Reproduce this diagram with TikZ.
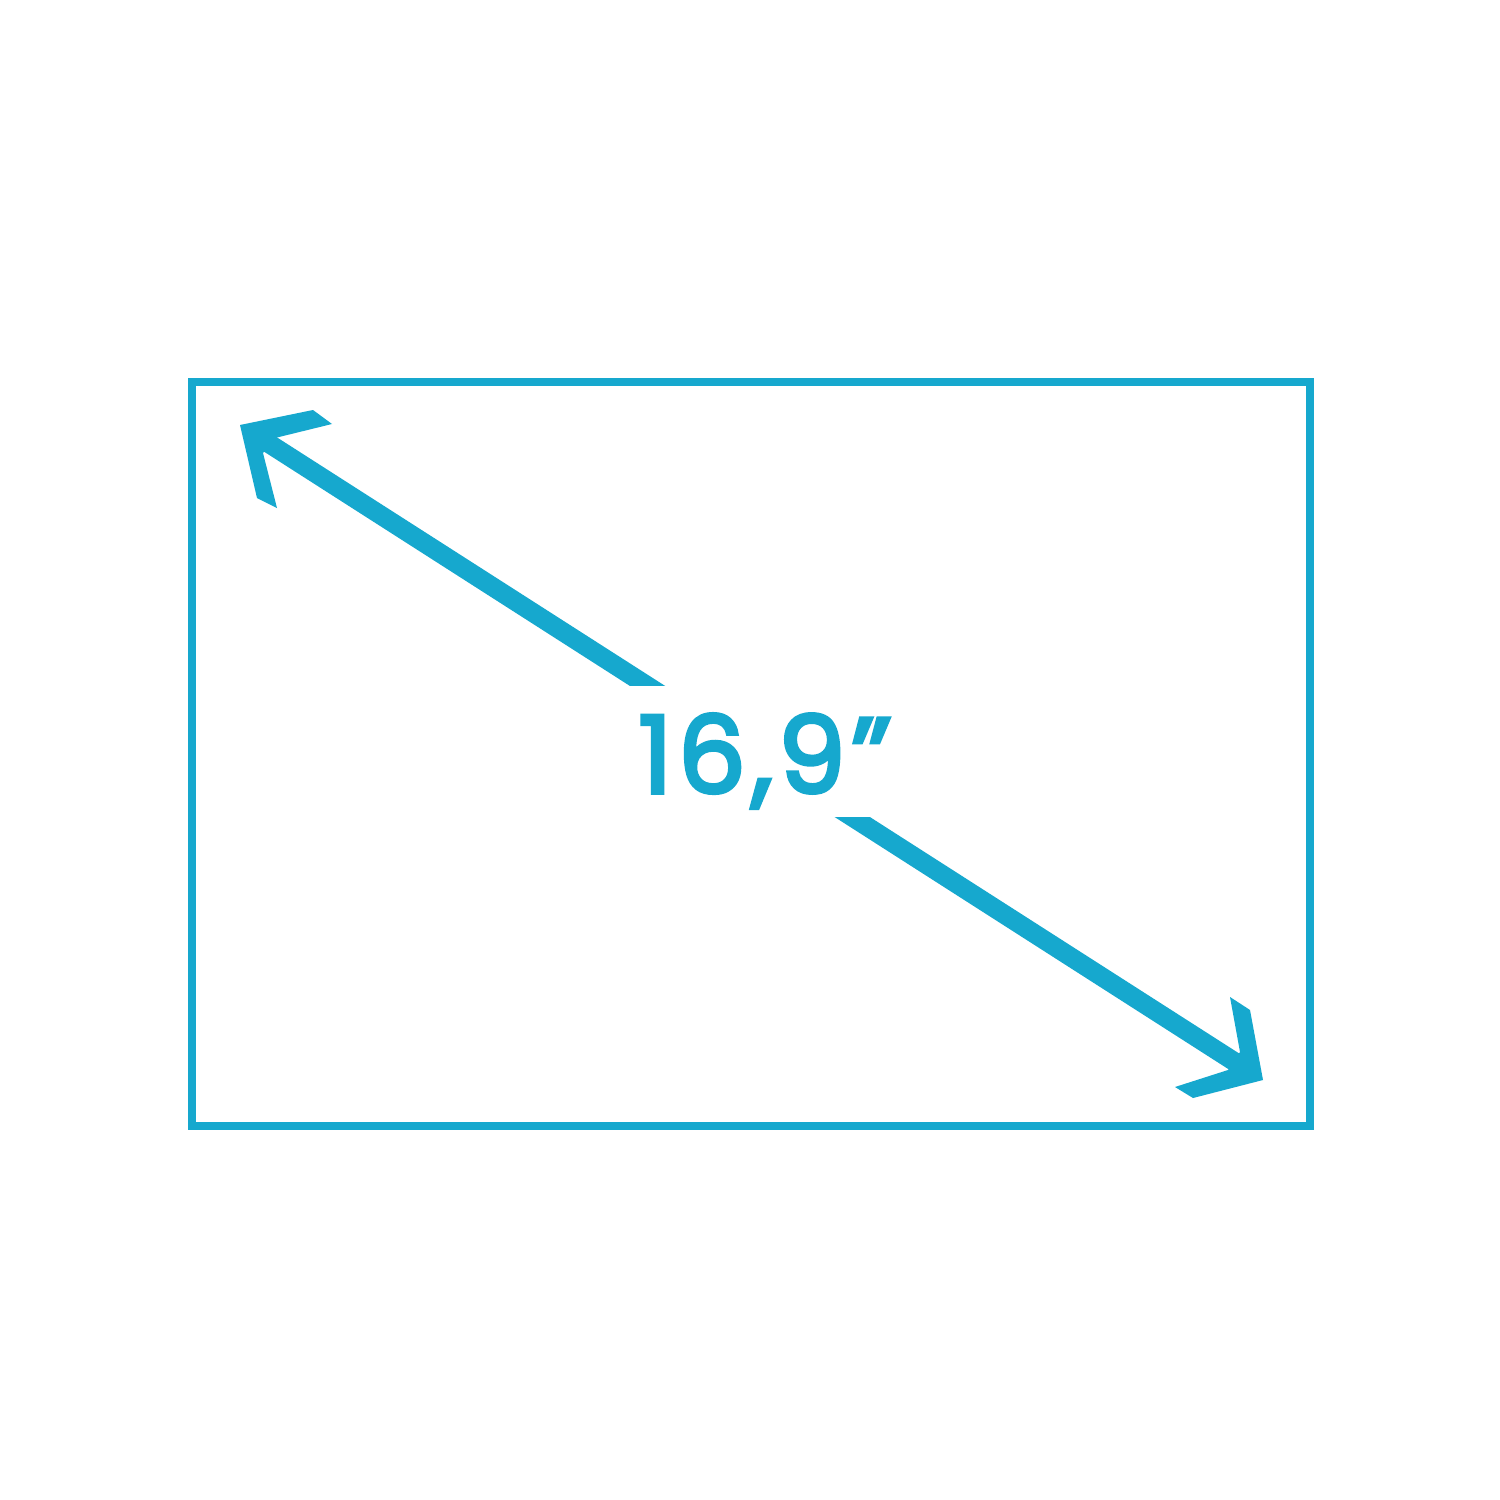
\documentclass[tikz,border=0pt]{standalone}
\usepackage{fontspec}
\newfontfamily\labfont{Poppins}[FakeBold=3.5, LetterSpace=5]
\definecolor{screenblue}{RGB}{22,168,206}
\tikzset{
  frame/.style={draw=screenblue, line width=0.075cm},
  shaft/.style={draw=screenblue, line width=0.19cm, shorten <=0.2cm, shorten >=0.2cm},
  head/.style={fill=screenblue, draw=none},
  sizelabel/.style={fill=white, text=screenblue, font=\labfont\fontsize{30.5pt}{30.5pt}\selectfont,
    anchor=base, text height=1.07cm, text depth=0.237cm, inner ysep=0pt, minimum width=2.8cm}
}
\begin{document}
\begin{tikzpicture}[x=0.01cm,y=-0.01cm]
\useasboundingbox (0,0) rectangle (1500,1500);
\fill[white] (0,0) rectangle (1500,1500);
\draw[frame] (192,382) rectangle (1310,1126);
\coordinate (t1) at (240,425);
\coordinate (t2) at (1263,1080);
\draw[shaft] (t1) -- (t2);
\node[sizelabel] (lbl) at (765,793) {16,9”};
\fill[head] (t1) -- (313,410) -- (332,424) -- (275,438) -- (263,453) -- (277,508) -- (257,498) -- cycle;
\fill[head] (t2) -- (1250,1010) -- (1230,997) -- (1240,1052) -- (1228,1070) -- (1175,1087) -- (1193,1098) -- cycle;
\end{tikzpicture}
\end{document}
